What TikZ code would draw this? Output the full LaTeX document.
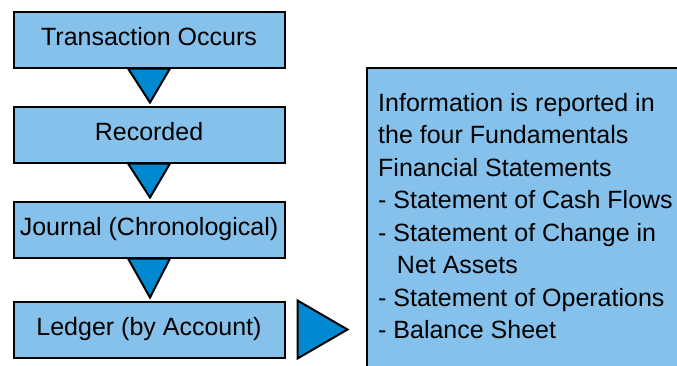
\documentclass[tikz,border=0pt]{standalone}
\usepackage{fontspec}
\setmainfont{Liberation Sans}
\usetikzlibrary{positioning, calc}
\definecolor{boxblue}{RGB}{133,193,235}
\definecolor{tipblue}{RGB}{0,137,208}

\begin{document}
\begin{tikzpicture}[x=1pt, y=-1pt, font=\fontsize{25}{32.5}\selectfont, node distance=37pt,
    stage/.style={draw, line width=2pt, fill=boxblue, minimum width=271pt, minimum height=56pt, inner sep=0pt,
      text height=18pt, text depth=7pt},
    pointer/.style={draw, line width=2pt, fill=tipblue, line join=miter}]
  \useasboundingbox (0,0) rectangle (677,365);

  \node[stage] (occurs) at (149,39.5) {Transaction Occurs};
  \node[stage, below=of occurs] (recorded) {Recorded};
  \node[stage, below=of recorded] (journal) {Journal (Chronological)};
  \node[stage, below=42pt of journal] (ledger) {Ledger (by Account)};

  % pointers between the stages
  \foreach \a/\b in {occurs/recorded, recorded/journal, journal/ledger}
    \draw[pointer] ($(\a.south)+(-21,0)$) -- ($(\a.south)+(21,0)$) -- ($(\b.north)+(1,-3)$) -- cycle;
  \draw[pointer] ($(ledger.north east)+(12,0)$) -- ($(ledger.south east)+(12,0)$) -- ($(ledger.east)+(62,0)$) -- cycle;

  \node[draw, line width=2pt, fill=boxblue, anchor=north west, minimum width=340pt, minimum height=330pt]
    (report) at (366,67) {};
  \node[anchor=base west, align=left, inner sep=0pt] (reporttext) at (378,338.5)
    {Information is reported in\\
     the four Fundamentals\\
     Financial Statements\\
     - Statement of Cash Flows\\
     - Statement of Change in\\
     \hspace*{0.75em}Net Assets\\
     - Statement of Operations\\
     - Balance Sheet};
\end{tikzpicture}
\end{document}
